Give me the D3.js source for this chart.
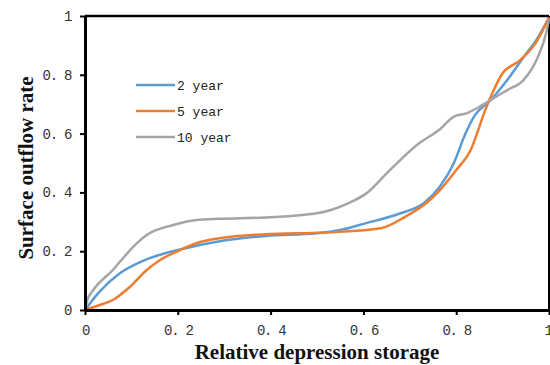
<!DOCTYPE html>
<html>
<head>
	<meta charset='utf-8'>
	<style>
		body { margin: 0; background: #fff; }
		.line { fill: none; stroke-width: 2.5px; }
		.tick text { font-family: 'Liberation Mono', monospace; font-size: 14px; letter-spacing: -1.3px; fill: #333; }
		.axis-title { font-family: 'Liberation Serif', serif; font-weight: bold; font-size: 21px; fill: #111; }
		.legend text { font-family: 'Liberation Mono', monospace; font-size: 13px; fill: #222; }
	</style>
</head>
<body>
<script src='https://d3js.org/d3.v7.min.js'></script>
<script>
	'use strict';

	// Данные
	const seriesNames = ['2 year', '5 year', '10 year'];
	const seriesColors = ['#5b9bd5', '#ed7d31', '#a5a5a5'];

	const x2 = [0, 0.03, 0.075, 0.12, 0.16, 0.205, 0.29, 0.39, 0.5, 0.55, 0.6, 0.68, 0.73, 0.765, 0.795, 0.82, 0.84, 0.875, 0.91, 0.945, 0.975, 1];
	const y2 = [0, 0.06, 0.125, 0.164, 0.187, 0.206, 0.234, 0.252, 0.261, 0.272, 0.293, 0.329, 0.363, 0.42, 0.5, 0.6, 0.662, 0.715, 0.782, 0.86, 0.924, 0.995];

	const x5 = [0, 0.03, 0.06, 0.097, 0.133, 0.162, 0.205, 0.24, 0.29, 0.39, 0.5, 0.57, 0.64, 0.69, 0.735, 0.765, 0.8, 0.83, 0.865, 0.9, 0.938, 0.973, 1];
	const y5 = [0, 0.016, 0.034, 0.079, 0.136, 0.17, 0.204, 0.227, 0.244, 0.258, 0.263, 0.268, 0.279, 0.317, 0.363, 0.408, 0.476, 0.54, 0.69, 0.805, 0.85, 0.912, 0.995];

	const x10 = [0, 0.005, 0.018, 0.06, 0.104, 0.133, 0.19, 0.24, 0.29, 0.39, 0.5, 0.53, 0.567, 0.605, 0.657, 0.72, 0.765, 0.795, 0.822, 0.85, 0.88, 0.91, 0.945, 0.973, 0.995, 1];
	const y10 = [0, 0.034, 0.068, 0.136, 0.215, 0.255, 0.289, 0.306, 0.31, 0.315, 0.329, 0.34, 0.363, 0.395, 0.476, 0.567, 0.615, 0.658, 0.669, 0.691, 0.72, 0.748, 0.782, 0.85, 0.95, 0.99];

	const xTicks = [0, 0.2, 0.4, 0.6, 0.8, 1];
	const yTicks = [0, 0.2, 0.4, 0.6, 0.8, 1];

	const seriesX = [x2, x5, x10];
	const seriesY = [y2, y5, y10];

	const margin = {top: 16, right: 1, bottom: 55, left: 85};
	const width = 550 - margin.left - margin.right;
	const height = 365 - margin.top - margin.bottom;

	const xScale = d3.scaleLinear().domain([0, 1]).range([0, width]);
	const yScale = d3.scaleLinear().domain([0, 1]).range([height, 0]);

	// подписи как в оригинале: "0. 2"
	const fmt = function(d) { return d === 0 || d === 1 ? String(d) : d3.format('.1f')(d).replace('.', '. '); };

	const svg = d3.select('body').append('svg')
		.attr('width', 550)
		.attr('height', 365)
		.append('g')
		.attr('transform', 'translate(' + margin.left + ',' + margin.top + ')');

	// рамка сверху и справа
	svg.append('line').attr('x1', 0).attr('x2', width).attr('y1', 0).attr('y2', 0)
		.attr('stroke', '#000').attr('stroke-width', 2.5);
	svg.append('line').attr('x1', width).attr('x2', width).attr('y1', 0).attr('y2', height)
		.attr('stroke', '#000').attr('stroke-width', 2);

	const line = d3.line()
		.x(function(d) { return xScale(d[0]); })
		.y(function(d) { return yScale(d[1]); })
		.curve(d3.curveMonotoneX);

	seriesNames.forEach(function(name, i) {
		const pts = seriesX[i].map(function(v, j) { return [v, seriesY[i][j]]; });
		svg.append('path')
			.datum(pts)
			.attr('class', 'line')
			.attr('stroke', seriesColors[i])
			.attr('d', line);
	});

	const xAxis = svg.append('g')
		.attr('transform', 'translate(0,' + height + ')')
		.call(d3.axisBottom(xScale).tickValues(xTicks).tickFormat(fmt).tickSize(5).tickSizeOuter(0).tickPadding(10));
	const yAxis = svg.append('g')
		.call(d3.axisLeft(yScale).tickValues(yTicks).tickFormat(fmt).tickSize(5).tickSizeOuter(0).tickPadding(9));

	// последняя подпись у края, чтобы не обрезалась
	xAxis.selectAll('.tick text').filter(function(d) { return d === 1; })
		.attr('text-anchor', 'end')
		.attr('dx', 2);

	[xAxis, yAxis].forEach(function(a) {
		a.select('.domain').attr('stroke', '#000').attr('stroke-width', 3);
		a.selectAll('.tick line').attr('stroke', '#000').attr('stroke-width', 2);
	});

	// названия осей
	svg.append('text')
		.attr('class', 'axis-title')
		.attr('x', 232)
		.attr('y', height + 49)
		.attr('text-anchor', 'middle')
		.text('Relative depression storage');

	svg.append('text')
		.attr('class', 'axis-title')
		.attr('transform', 'translate(' + (-52) + ',' + (152) + ') rotate(-90)')
		.attr('text-anchor', 'middle')
		.text('Surface outflow rate');

	// легенда
	const legend = svg.append('g').attr('class', 'legend')
		.attr('transform', 'translate(51,69)');

	seriesNames.forEach(function(name, i) {
		const g = legend.append('g').attr('transform', 'translate(0,' + (i * 26) + ')');
		g.append('line').attr('x1', 0).attr('x2', 39).attr('y1', 0).attr('y2', 0)
			.attr('stroke', seriesColors[i]).attr('stroke-width', 2.5);
		g.append('text').attr('x', 41).attr('y', 0).attr('dy', '0.35em').text(name);
	});
</script>
</body>
</html>
